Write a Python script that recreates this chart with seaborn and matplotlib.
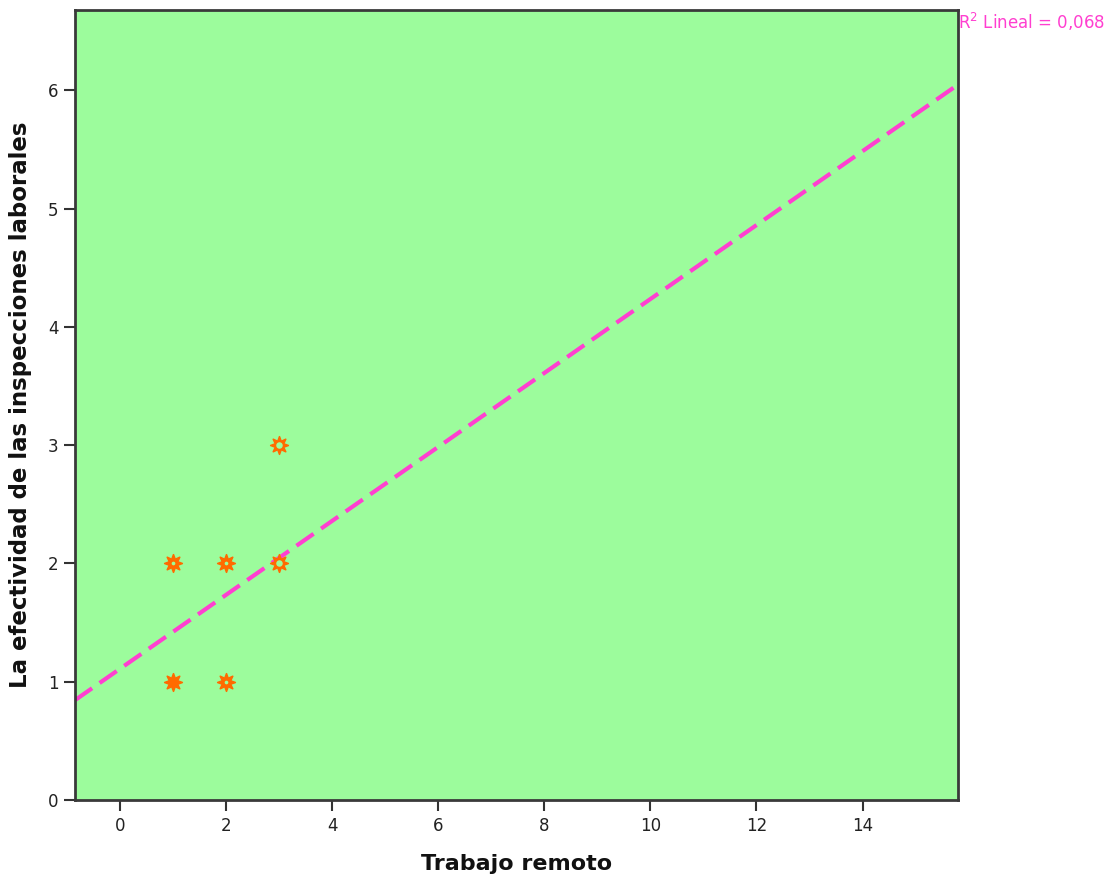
import matplotlib
matplotlib.use("Agg")
import matplotlib.pyplot as plt
import seaborn as sns
import numpy as np
import pandas as pd

# Data
x_vals = [1, 1, 2, 2, 3, 3]
y_vals = [1, 2, 1, 2, 2, 3]
counts = [6, 4, 3, 3, 1, 1]          # relative overlap (estimated from marker density)
fit_intercept = 1.11
fit_slope = 0.3126
r2_label = "R$^2$ Lineal = 0,068"
x_ticks = [0, 2, 4, 6, 8, 10, 12, 14]
y_ticks = [0, 1, 2, 3, 4, 5, 6]
x_label = "Trabajo remoto"
y_label = "La efectividad de las inspecciones laborales"

sns.set_theme(style="white")
plt.rcParams['font.family'] = ['DejaVu Sans']

fig = plt.figure(figsize=(11.2, 8.83), dpi=100)
ax = fig.add_axes([75/1120, 83/883, (958-75)/1120, (800-10)/883])
bg = "#9CFC9C"
ax.set_facecolor(bg)

df = pd.DataFrame({"x": x_vals, "y": y_vals, "n": counts})
orange = "#FF6A00"
sns.scatterplot(data=df, x="x", y="y", ax=ax, marker=(8, 1, 0),
                s=160, color=orange, edgecolor=orange, linewidth=1.2,
                legend=False, zorder=3)
# overlap density: fewer cases -> larger light centre
hole = df[df["n"] < 5].copy()
hole["h"] = np.where(hole["n"] <= 1, 22, 7)
for _, row in hole.iterrows():
    ax.scatter([row["x"]], [row["y"]], s=row["h"], color=bg, zorder=4, linewidths=0)

xmin, xmax = -0.85, 15.8
xs = np.array([xmin, xmax])
ax.plot(xs, fit_intercept + fit_slope * xs, color="#FF3FD0", lw=3, dashes=(5, 2.2), zorder=2)

ax.set_xlim(xmin, xmax)
ax.set_ylim(0, 6.68)
ax.set_xticks(x_ticks)
ax.set_yticks(y_ticks)
ax.tick_params(axis="both", direction="out", length=8, width=1.5, color="#333333",
               labelsize=12, labelcolor="#222222", bottom=True, left=True, pad=4)
for sp in ax.spines.values():
    sp.set_color("#3a3a3a")
    sp.set_linewidth(2)

ax.set_xlabel(x_label, fontsize=16, fontweight="bold", labelpad=14, color="#111111")
ax.set_ylabel(y_label, fontsize=16.5, fontweight="bold", labelpad=11, color="#111111")

ax.text(1.0, 0.985, r2_label, transform=ax.transAxes, ha="left", va="center",
        color="#FF3FD0", fontsize=12)

fig.savefig("out.png", dpi=100)
